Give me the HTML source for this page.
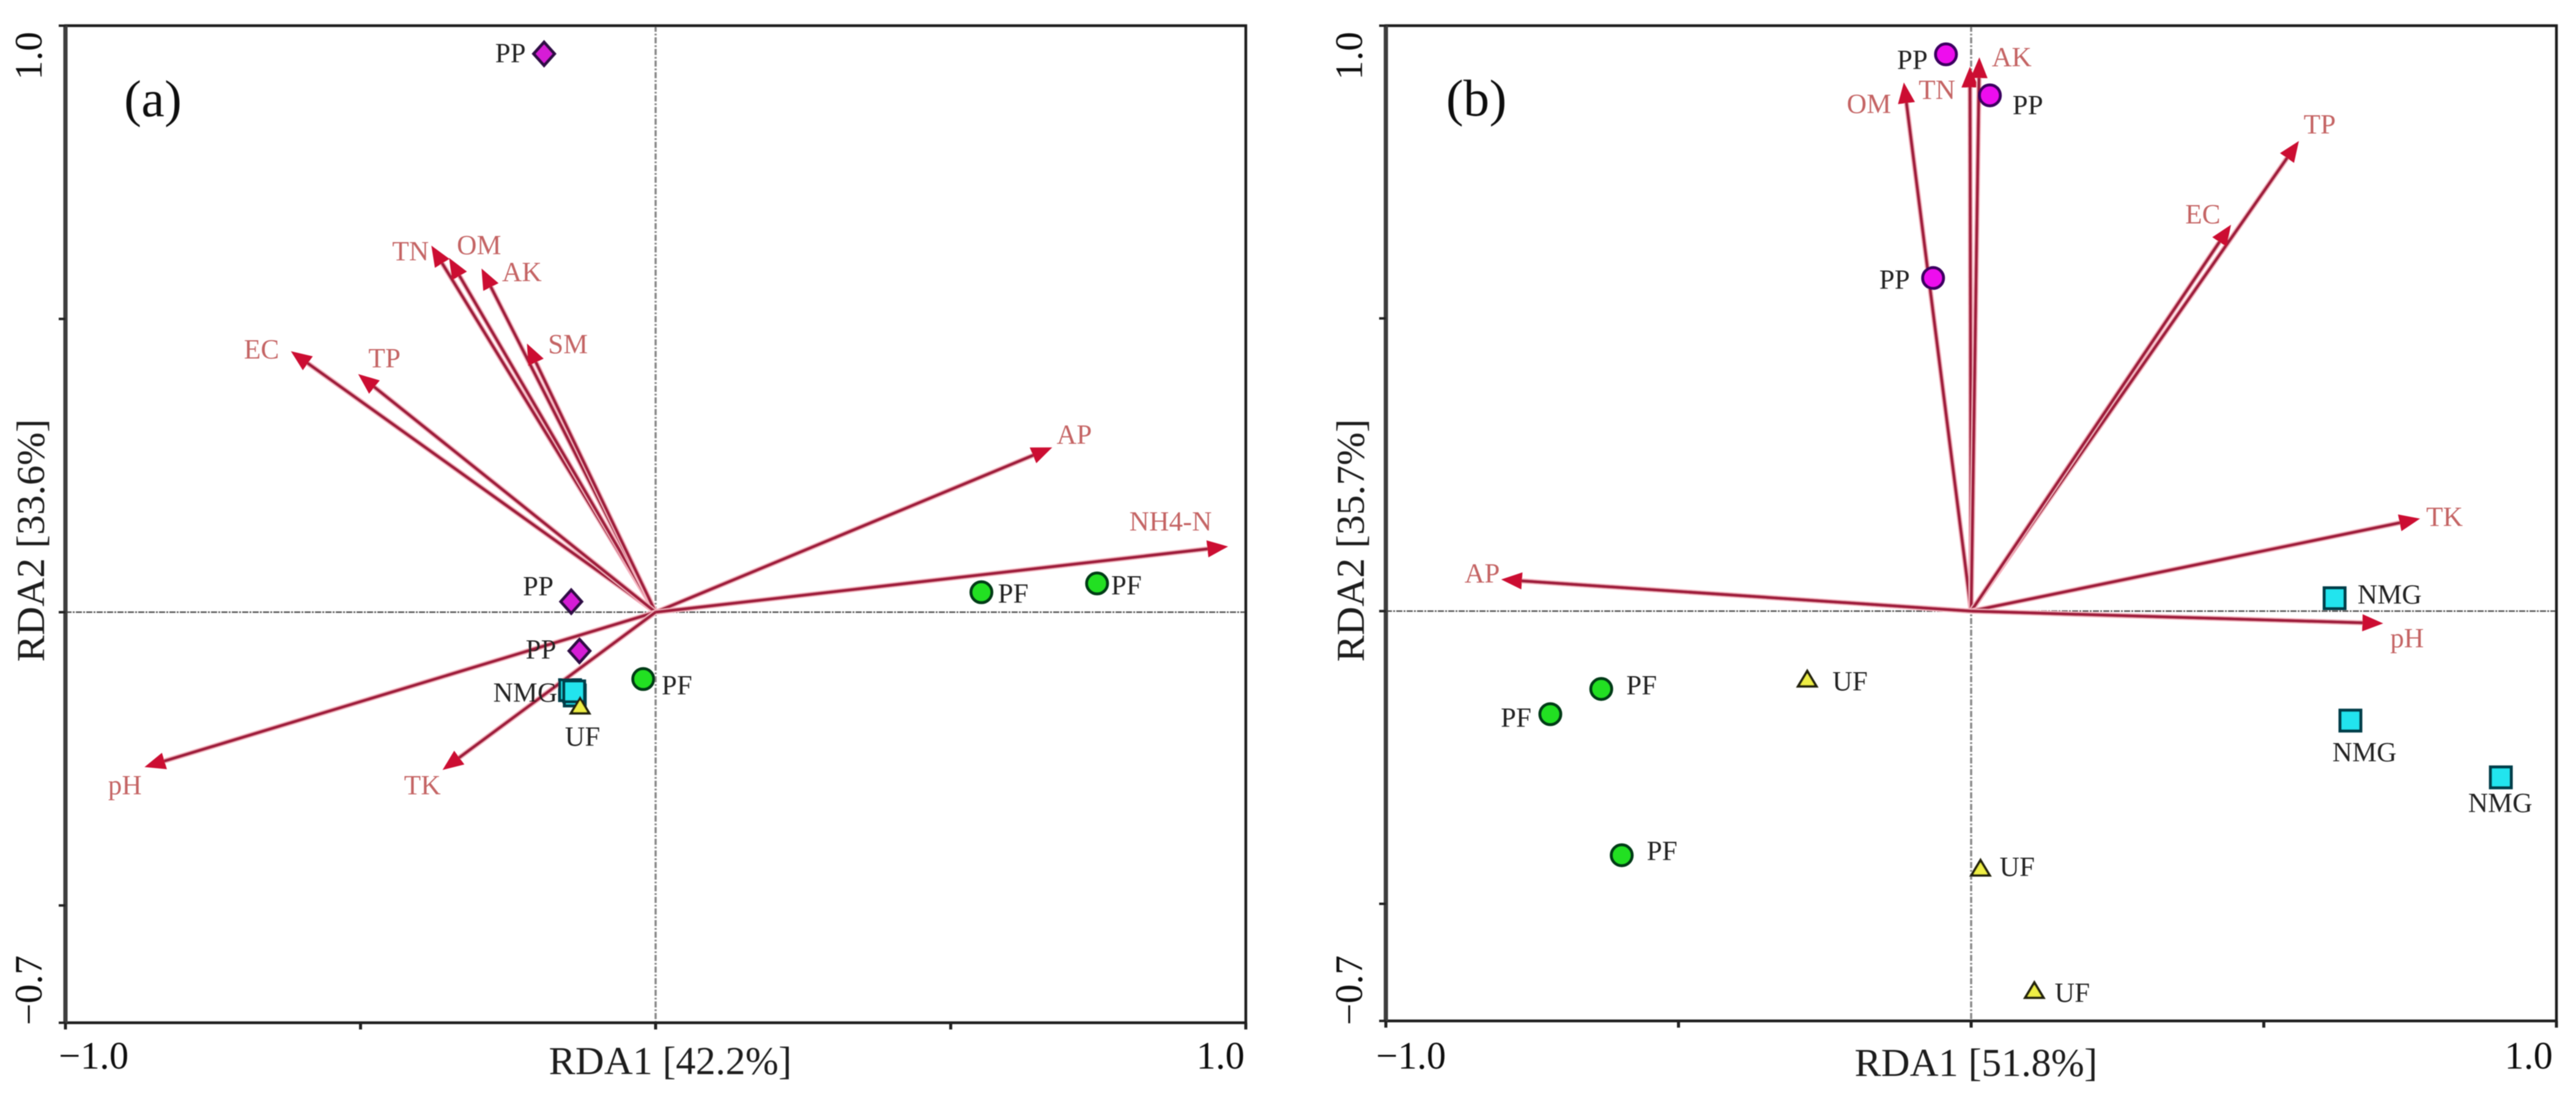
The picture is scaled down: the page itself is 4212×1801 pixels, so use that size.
<!DOCTYPE html>
<html lang="en">
<head>
<meta charset="utf-8">
<title>RDA biplots</title>
<style>
html,body{margin:0;padding:0;background:#fff;width:4212px;height:1801px;overflow:hidden}
svg{display:block}
text{font-family:"Liberation Serif","Times New Roman",serif}
</style>
</head>
<body>
<svg id="figure" xmlns="http://www.w3.org/2000/svg" width="4212" height="1801" viewBox="0 0 4212 1801">
<defs><filter id="soft" x="-5%" y="-5%" width="110%" height="110%"><feGaussianBlur stdDeviation="0.9"/></filter></defs>
<rect x="0" y="0" width="4212" height="1801" fill="#ffffff"/>
<g id="root" filter="url(#soft)"></g>
</svg>
<script>
// ---------- shared axis values ----------
const xTickValues = [-1, -0.5, 0, 0.5, 1];
const yTickValues = [-0.7, -0.5, 0, 0.5, 1];
const xDomain = [-1, 1];
const yDomain = [-0.7, 1];
const tickLabelLow = '\u22121.0';
const yTickLabelLow = '\u22120.7';
const tickLabelHigh = '1.0';

// ---------- panel (a) data ----------
const aVarNames = ['TN', 'OM', 'AK', 'SM', 'EC', 'TP', 'AP', 'NH4-N', 'pH', 'TK'];
const aVarX = [-0.380, -0.350, -0.295, -0.218, -0.618, -0.504, 0.672, 0.970, -0.866, -0.361];
const aVarY = [0.625, 0.604, 0.586, 0.458, 0.445, 0.406, 0.281, 0.112, -0.264, -0.269];
const aSiteGroups = ['NMG', 'NMG', 'NMG', 'UF', 'PP', 'PP', 'PP', 'PF', 'PF', 'PF'];
const aSiteX = [-0.145, -0.137, -0.138, -0.128, -0.189, -0.143, -0.129, -0.021, 0.552, 0.748];
const aSiteY = [-0.133, -0.142, -0.135, -0.161, 0.952, 0.018, -0.066, -0.114, 0.034, 0.049];

// ---------- panel (b) data ----------
const bVarNames = ['OM', 'TN', 'AK', 'TP', 'EC', 'TK', 'pH', 'AP'];
const bVarX = [-0.115, -0.002, 0.014, 0.560, 0.444, 0.767, 0.704, -0.803];
const bVarY = [0.903, 0.930, 0.946, 0.803, 0.660, 0.158, -0.021, 0.054];
const bSiteGroups = ['PP', 'PP', 'PP', 'NMG', 'NMG', 'NMG', 'PF', 'PF', 'PF', 'UF', 'UF', 'UF'];
const bSiteX = [-0.043, 0.032, -0.065, 0.621, 0.648, 0.905, -0.632, -0.719, -0.597, -0.280, 0.016, 0.108];
const bSiteY = [0.951, 0.881, 0.569, 0.022, -0.187, -0.284, -0.133, -0.176, -0.417, -0.117, -0.440, -0.649];

// ---------- layout (label nudges, not data) ----------
const aVarNudges = [[-34,9],[49,-21],[66,6],[67,1],[-48,-3],[43,-26],[36,-21],[-94,-41],[-32,30],[-33,25]];
const aSiteNudges = [null,null,[-80,2],[4,49],[-55,-1],[-54,-25],[-63,-2],[55,10],[52,2],[48,3]];
const bVarNudges = [[-57,35],[-54,38],[53,0],[34,-27],[-46,-17],[40,-3],[39,24],[-31,-10]];
const bSiteNudges = [[-55,9],[62,16],[-63,3],[90,-6],[23,52],[-1,42],[66,-6],[-56,6],[66,-7],[70,3],[60,-3],[62,3]];

const panels = [
  {id:'a', left:107, right:2037, top:42, bottom:1673, letter:'(a)', letterX:250, letterY:190,
   xTitle:'RDA1 [42.2%]', xTitleX:1096, xTitleY:1757, yTitle:'RDA2 [33.6%]', yTitleX:72, yTitleY:884,
   lowX:96, highX:2035, tickY:1748, yTickX:68,
   varNames:aVarNames, varX:aVarX, varY:aVarY, varNudges:aVarNudges,
   siteGroups:aSiteGroups, siteX:aSiteX, siteY:aSiteY, siteNudges:aSiteNudges, ppShape:'diamond'},
  {id:'b', left:2266, right:4180, top:42, bottom:1670, letter:'(b)', letterX:2414, letterY:189,
   xTitle:'RDA1 [51.8%]', xTitleX:3231, xTitleY:1760, yTitle:'RDA2 [35.7%]', yTitleX:2230, yTitleY:884,
   lowX:2250, highX:4174, tickY:1748, yTickX:2227,
   varNames:bVarNames, varX:bVarX, varY:bVarY, varNudges:bVarNudges,
   siteGroups:bSiteGroups, siteX:bSiteX, siteY:bSiteY, siteNudges:bSiteNudges, ppShape:'circle'}
];

const NS = 'http://www.w3.org/2000/svg';
const root = document.getElementById('root');

function make(tag, attrs, parent) {
  const node = document.createElementNS(NS, tag);
  for (const key in attrs) node.setAttribute(key, attrs[key]);
  parent.appendChild(node);
  return node;
}
function scaleX(p, v) { return p.left + (v - xDomain[0]) / (xDomain[1] - xDomain[0]) * (p.right - p.left); }
function scaleY(p, v) { return p.top + (yDomain[1] - v) / (yDomain[1] - yDomain[0]) * (p.bottom - p.top); }

function drawMarker(group, shape, cx, cy) {
  let m;
  if (shape === 'diamond') {
    m = make('polygon', {points:[cx,cy-19,cx+17,cy,cx,cy+19,cx-17,cy].join(','), fill:'#d61fd6', stroke:'#2e0a44', 'stroke-width':5}, group);
  } else if (shape === 'circle') {
    m = make('circle', {cx:cx, cy:cy, r:17, fill:'#ee11ee', stroke:'#3a0060', 'stroke-width':5}, group);
  } else if (shape === 'green') {
    m = make('circle', {cx:cx, cy:cy, r:17, fill:'#22e022', stroke:'#063a12', 'stroke-width':5}, group);
  } else if (shape === 'square') {
    m = make('rect', {x:cx-17, y:cy-17, width:34, height:34, fill:'#22e4ee', stroke:'#063c4a', 'stroke-width':5}, group);
  } else {
    m = make('polygon', {points:[cx,cy-14,cx+15,cy+11,cx-15,cy+11].join(','), fill:'#eeee44', stroke:'#20200c', 'stroke-width':4}, group);
  }
  return m;
}

panels.forEach(function (p) {
  const g = make('g', {}, root);
  
  

  const zeroX = scaleX(p, 0);
  const zeroY = scaleY(p, 0);

  // reference lines
  const hLine = make('line', {x1:p.left, y1:zeroY, x2:p.right, y2:zeroY, stroke:'#555', 'stroke-width':2.5, 'stroke-dasharray':'10 2 3 2'}, g);
  
  
  const vLine = make('line', {x1:zeroX, y1:p.top, x2:zeroX, y2:p.bottom, stroke:'#888', 'stroke-width':3.5, 'stroke-dasharray':'10 3 3 3'}, g);
  
  

  // frame
  const frame = make('rect', {x:p.left, y:p.top, width:p.right-p.left, height:p.bottom-p.top, fill:'none', stroke:'#1c1c1c', 'stroke-width':4.5}, g);
  
  
  const leftAxis = make('line', {x1:p.left, y1:p.top, x2:p.left, y2:p.bottom, stroke:'#3c3c3c', 'stroke-width':7}, g);
  
  

  // ticks
  xTickValues.forEach(function (v) {
    const t = make('line', {x1:scaleX(p, v), y1:p.bottom, x2:scaleX(p, v), y2:p.bottom+11, stroke:'#222', 'stroke-width':5}, g);
    
    
  });
  yTickValues.forEach(function (v) {
    const t = make('line', {x1:p.left-11, y1:scaleY(p, v), x2:p.left, y2:scaleY(p, v), stroke:'#222', 'stroke-width':4}, g);
    
    
  });

  // axis labels
  const xLow = make('text', {x:p.lowX, y:p.tickY, 'font-size':63, fill:'#111'}, g);
  xLow.textContent = tickLabelLow;
  
  
  const xHigh = make('text', {x:p.highX, y:p.tickY, 'font-size':63, fill:'#111', 'text-anchor':'end'}, g);
  xHigh.textContent = tickLabelHigh;
  
  
  const yLow = make('text', {transform:'translate(' + p.yTickX + ',1677) rotate(-90)', 'font-size':63, fill:'#111'}, g);
  yLow.textContent = yTickLabelLow;
  
  
  const yHigh = make('text', {transform:'translate(' + p.yTickX + ',52) rotate(-90)', 'font-size':63, fill:'#111', 'text-anchor':'end'}, g);
  yHigh.textContent = tickLabelHigh;
  
  
  const xTitle = make('text', {x:p.xTitleX, y:p.xTitleY, 'font-size':65, fill:'#1a1a1a', 'text-anchor':'middle'}, g);
  xTitle.textContent = p.xTitle;
  
  
  const yTitle = make('text', {transform:'translate(' + p.yTitleX + ',' + p.yTitleY + ') rotate(-90)', 'font-size':65, fill:'#1a1a1a', 'text-anchor':'middle'}, g);
  yTitle.textContent = p.yTitle;
  
  
  const letter = make('text', {x:p.letterX, y:p.letterY, 'font-size':85, fill:'#111', 'text-anchor':'middle'}, g);
  letter.textContent = p.letter;
  
  

  // environmental vectors
  p.varNames.forEach(function (name, i) {
    const tipX = scaleX(p, p.varX[i]);
    const tipY = scaleY(p, p.varY[i]);
    const dx = tipX - zeroX;
    const dy = tipY - zeroY;
    const len = Math.hypot(dx, dy);
    const ux = dx / len;
    const uy = dy / len;
    const baseX = tipX - ux * 34;
    const baseY = tipY - uy * 34;
    const arrow = make('g', {}, g);
    
    
    make('line', {x1:zeroX, y1:zeroY, x2:baseX, y2:baseY, stroke:'#f6b4c0', 'stroke-width':8.5}, arrow);
    make('line', {x1:zeroX, y1:zeroY, x2:baseX, y2:baseY, stroke:'#a01c3c', 'stroke-width':5}, arrow);
    make('polygon', {points:[tipX, tipY, baseX - uy*14, baseY + ux*14, baseX + uy*14, baseY - ux*14].join(','), fill:'#cc1030'}, arrow);
    const n = p.varNudges[i];
    const label = make('text', {x:tipX+n[0], y:tipY+n[1]+15, 'font-size':45, fill:'#c46464', 'text-anchor':'middle'}, g);
    label.textContent = name;
    
    
  });

  // sites
  p.siteGroups.forEach(function (name, i) {
    const cx = scaleX(p, p.siteX[i]);
    const cy = scaleY(p, p.siteY[i]);
    let shape = 'triangle';
    if (name === 'PP') shape = p.ppShape;
    if (name === 'PF') shape = 'green';
    if (name === 'NMG') shape = 'square';
    const mark = drawMarker(g, shape, cx, cy);
    
    
    const n = p.siteNudges[i];
    if (n) {
      const label = make('text', {x:cx+n[0], y:cy+n[1]+15, 'font-size':45, fill:'#222', 'text-anchor':'middle'}, g);
      label.textContent = name;
      
      
    }
  });
});
</script>
</body>
</html>
